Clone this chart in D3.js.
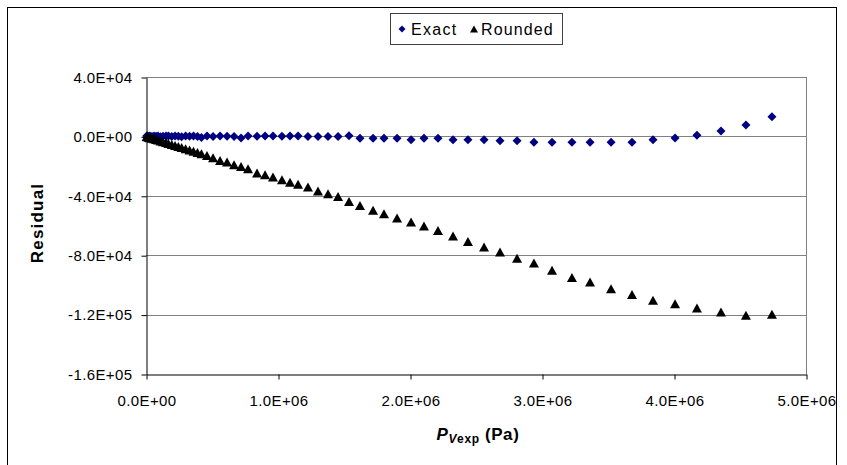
<!DOCTYPE html>
<html>
<head>
<meta charset="utf-8">
<script src="https://cdn.jsdelivr.net/npm/d3@7"></script>
<style>
    body { margin: 0; background: #fff; }
    text { font-family: "Liberation Sans", Arial, sans-serif; }
</style>
</head>
<body>
<script>
// pressure values (Pa)
var pressure = [
    0.005e6, 0.010e6, 0.020e6, 0.030e6, 0.045e6, 0.061e6, 0.076e6, 0.091e6, 0.110e6, 0.129e6,
    0.152e6, 0.170e6, 0.195e6, 0.220e6, 0.245e6, 0.270e6, 0.300e6, 0.330e6, 0.360e6, 0.390e6,
    0.420e6, 0.462e6, 0.508e6, 0.561e6, 0.614e6, 0.667e6, 0.720e6, 0.773e6, 0.841e6, 0.902e6,
    0.962e6, 1.030e6, 1.091e6, 1.152e6, 1.227e6, 1.303e6, 1.379e6, 1.455e6, 1.538e6, 1.621e6,
    1.720e6, 1.803e6, 1.902e6, 2.008e6, 2.106e6, 2.212e6, 2.326e6, 2.439e6, 2.561e6, 2.682e6,
    2.811e6, 2.939e6, 3.076e6, 3.227e6, 3.364e6, 3.523e6, 3.682e6, 3.841e6, 4.008e6, 4.174e6,
    4.356e6, 4.545e6, 4.742e6
];

// residuals, exact coefficients
var exactRes = [
    300, 200, 100, 300, 0, 200, 100, 300, -200, 100,
    300, 200, 0, 200, 100, -300, 200, 100, 200, 0,
    -800, 200, 0, 200, 100, 0, -1000, 200, 100, 200,
    200, 100, 200, 200, 0, 0, 0, 0, 500, -1300,
    -1300, -1300, -1300, -2200, -1300, -1300, -2200, -2200, -2200, -2900,
    -2900, -4000, -4000, -4000, -4000, -4000, -4000, -2200, -1100, 700,
    3600, 7700, 13300
];

// residuals, rounded coefficients
var roundedRes = [
    -150, -300, -550, -850, -1250, -1650, -2050, -2500, -3050, -3600,
    -4150, -4700, -5400, -6100, -6800, -7500, -8300, -9100, -9950, -10800,
    -11600, -12800, -14300, -16200, -17300, -19100, -20200, -21800, -24700, -25800,
    -27400, -29200, -30800, -32300, -34100, -36800, -38600, -40400, -43800, -46500,
    -49800, -52100, -55000, -57700, -60400, -63300, -67100, -70700, -74500, -77900,
    -82000, -85300, -90200, -95100, -98100, -102600, -106400, -110400, -112700, -115600,
    -118300, -120500, -119700
];

var yTicks = [40000, 0, -40000, -80000, -120000, -160000];
var xTicks = [0, 1e6, 2e6, 3e6, 4e6, 5e6];

// chart frame
var width = 847,
    height = 465;

var svg = d3.select("body")
    .append("svg")
    .attr("width", width)
    .attr("height", height);

// outer border
svg.append("rect")
    .attr("x", 7.5)
    .attr("y", 7.5)
    .attr("width", 829)
    .attr("height", 470)
    .attr("fill", "none")
    .attr("stroke", "#000");

var x = d3.scaleLinear().domain([0, 5e6]).range([146, 806]);
var y = d3.scaleLinear().domain([-160000, 40000]).range([374, 77]);

// Excel style 0.0E+00
function sci(v) {
    if (v === 0) return "0.0E+00";
    var e = Math.floor(Math.log10(Math.abs(v)));
    var m = v / Math.pow(10, e);
    return m.toFixed(1) + "E" + (e < 0 ? "-" : "+") + String(Math.abs(e)).padStart(2, "0");
}

// gridlines
svg.append("g")
    .selectAll("line")
    .data(yTicks.filter(function(d) { return d !== -160000; }))
    .enter()
    .append("line")
    .attr("x1", x(0))
    .attr("x2", x(5e6))
    .attr("y1", function(d) { return Math.round(y(d)) + 0.5; })
    .attr("y2", function(d) { return Math.round(y(d)) + 0.5; })
    .attr("stroke", "#808080");

// right border of plot
svg.append("line")
    .attr("x1", x(5e6) + 0.5)
    .attr("x2", x(5e6) + 0.5)
    .attr("y1", y(40000))
    .attr("y2", y(-160000))
    .attr("stroke", "#808080");

// axes
svg.append("g")
    .attr("transform", "translate(" + (x(0) + 0.5) + ",0.5)")
    .call(d3.axisLeft(y).tickValues(yTicks).tickFormat(sci).tickSize(5).tickSizeOuter(0).tickPadding(9));

svg.append("g")
    .attr("transform", "translate(0.5," + (y(-160000) + 0.5) + ")")
    .call(d3.axisBottom(x).tickValues(xTicks).tickFormat(sci).tickSize(5).tickSizeOuter(0).tickPadding(16));

svg.selectAll(".domain, .tick line").attr("stroke", "#000");
svg.selectAll(".tick text")
    .attr("font-size", "15px")
    .attr("letter-spacing", "0.4px")
    .attr("font-family", "Liberation Sans, Arial, sans-serif")
    .attr("fill", "#000");

// axis titles
svg.append("text")
    .attr("transform", "translate(43,223) rotate(-90)")
    .attr("text-anchor", "middle")
    .attr("font-size", "17px")
    .attr("font-weight", "bold")
    .attr("letter-spacing", "1.2px")
    .text("Residual");

var xt = svg.append("text")
    .attr("x", 478)
    .attr("y", 440)
    .attr("text-anchor", "middle")
    .attr("font-size", "17px")
    .attr("font-weight", "bold")
    .attr("letter-spacing", "0.6px");
xt.append("tspan").attr("font-style", "italic").text("P");
xt.append("tspan").attr("font-style", "italic").attr("font-size", "12px").attr("dy", 3).text("V");
xt.append("tspan").attr("font-size", "12px").text("exp");
xt.append("tspan").attr("dy", -3).text(" (Pa)");

// markers
var diamond = "M0,-4.5L4.5,0L0,4.5L-4.5,0Z";
var triangle = "M0,-4.5L5,4.5L-5,4.5Z";

svg.append("g")
    .selectAll("path")
    .data(pressure)
    .enter()
    .append("path")
    .attr("d", diamond)
    .attr("fill", "#000080")
    .attr("transform", function(d, i) {
        return "translate(" + x(d) + "," + y(exactRes[i]) + ")";
    });

svg.append("g")
    .selectAll("path")
    .data(pressure)
    .enter()
    .append("path")
    .attr("d", triangle)
    .attr("fill", "#000")
    .attr("transform", function(d, i) {
        return "translate(" + x(d) + "," + y(roundedRes[i]) + ")";
    });

// legend
var legend = svg.append("g");
legend.append("rect")
    .attr("x", 390.5)
    .attr("y", 13.5)
    .attr("width", 172)
    .attr("height", 31)
    .attr("fill", "#fff")
    .attr("stroke", "#404040");

legend.append("path")
    .attr("d", "M0,-3.5L3.5,0L0,3.5L-3.5,0Z")
    .attr("fill", "#000080")
    .attr("transform", "translate(402,29)");
legend.append("text")
    .attr("x", 411)
    .attr("y", 35)
    .attr("font-size", "16px")
    .attr("letter-spacing", "1.3px")
    .text("Exact");

legend.append("path")
    .attr("d", "M0,-3.5L4,3.5L-4,3.5Z")
    .attr("fill", "#000")
    .attr("transform", "translate(474,29)");
legend.append("text")
    .attr("x", 481)
    .attr("y", 35)
    .attr("font-size", "16px")
    .attr("letter-spacing", "1.1px")
    .text("Rounded");
</script>
</body>
</html>
